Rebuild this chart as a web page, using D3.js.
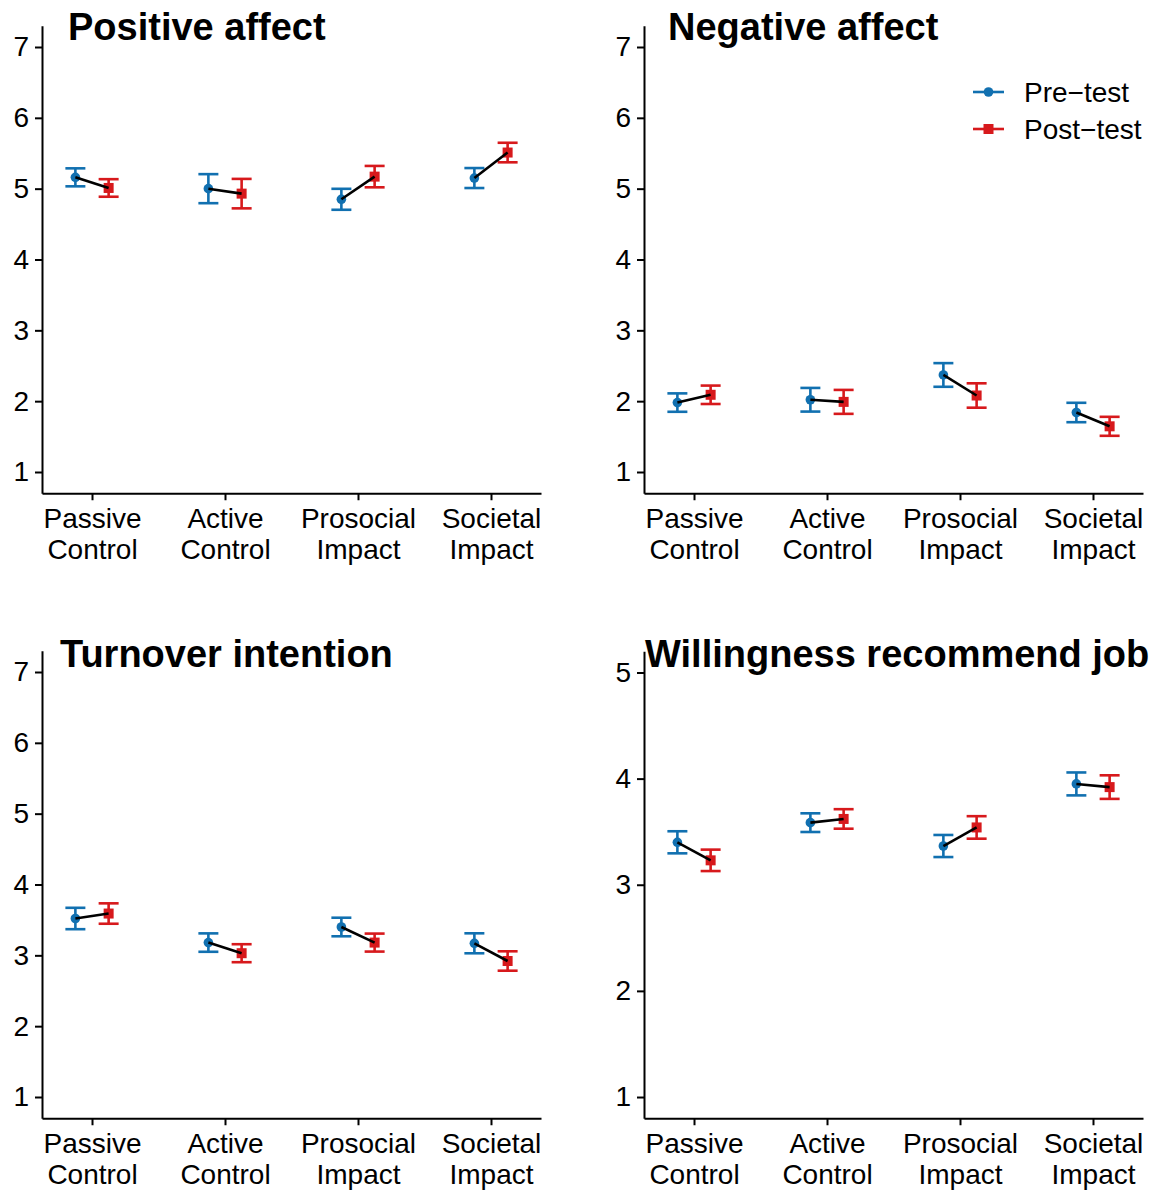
<!DOCTYPE html>
<html>
<head>
<meta charset="utf-8" />
<script src="https://cdn.jsdelivr.net/npm/d3@7"></script>
<style>
	body {
		margin: 0;
		background: #fff;
	}
	text {
		font-family: 'Liberation Sans', Arial, sans-serif;
	}
</style>
</head>
<body>
<div id="chart"></div>
<script>
const categories = ['Passive Control', 'Active Control', 'Prosocial Impact', 'Societal Impact']
const categoryLines = [
	['Passive', 'Control'],
	['Active', 'Control'],
	['Prosocial', 'Impact'],
	['Societal', 'Impact'],
]
const timeLabels = ['Pre\u2212test', 'Post\u2212test']

// means and error half-widths, per outcome
const positivePre = [5.16, 5.0, 4.85, 5.15]
const positivePost = [5.01, 4.93, 5.17, 5.51]
const positivePreErr = [0.127, 0.205, 0.148, 0.141]
const positivePostErr = [0.124, 0.208, 0.151, 0.138]

const negativePre = [1.98, 2.02, 2.37, 1.84]
const negativePost = [2.09, 1.99, 2.08, 1.645]
const negativePreErr = [0.13, 0.167, 0.167, 0.137]
const negativePostErr = [0.13, 0.169, 0.172, 0.134]

const turnoverPre = [3.52, 3.18, 3.4, 3.17]
const turnoverPost = [3.59, 3.03, 3.18, 2.92]
const turnoverPreErr = [0.151, 0.13, 0.131, 0.141]
const turnoverPostErr = [0.144, 0.127, 0.127, 0.137]

const recommendPre = [3.4, 3.585, 3.365, 3.95]
const recommendPost = [3.23, 3.62, 3.54, 3.92]
const recommendPreErr = [0.104, 0.088, 0.104, 0.108]
const recommendPostErr = [0.101, 0.092, 0.106, 0.111]

const ticks7 = [1, 2, 3, 4, 5, 6, 7]
const ticks5 = [1, 2, 3, 4, 5]

const colors = ['#1170b0', '#d7191c']

const panels = [
	{
		title: 'Positive affect',
		pre: positivePre, post: positivePost, preErr: positivePreErr, postErr: positivePostErr,
		ticks: ticks7, domain: [0.7, 7.3],
		left: 42, right: 541, top: 25.75, bottom: 493.25, titleX: 68, titleY: 40,
	},
	{
		title: 'Negative affect',
		pre: negativePre, post: negativePost, preErr: negativePreErr, postErr: negativePostErr,
		ticks: ticks7, domain: [0.7, 7.3],
		left: 644, right: 1143, top: 25.75, bottom: 493.25, titleX: 668, titleY: 40,
		legend: true,
	},
	{
		title: 'Turnover intention',
		pre: turnoverPre, post: turnoverPost, preErr: turnoverPreErr, postErr: turnoverPostErr,
		ticks: ticks7, domain: [0.7, 7.3],
		left: 42, right: 541, top: 650.75, bottom: 1118.25, titleX: 60, titleY: 667,
	},
	{
		title: 'Willingness recommend job',
		pre: recommendPre, post: recommendPost, preErr: recommendPreErr, postErr: recommendPostErr,
		ticks: ticks5, domain: [0.8, 5.2],
		left: 644, right: 1143, top: 651.25, bottom: 1118.25, titleX: 645, titleY: 667,
	},
]

const svg = d3
	.select('#chart')
	.append('svg')
	.attr('width', 1158)
	.attr('height', 1190)

panels.forEach(drawPanel)

function drawPanel(p) {
	const g = svg.append('g')

	const x = d3.scalePoint().domain(categories).range([p.left, p.right]).padding(0.376)
	const y = d3.scaleLinear().domain(p.domain).range([p.bottom, p.top])
	const dodge = x.step() * 0.125

	// axes
	const yAxis = g
		.append('g')
		.attr('transform', `translate(${p.left},0)`)
		.call(
			d3
				.axisLeft(y)
				.tickValues(p.ticks)
				.tickFormat(d3.format('d'))
				.tickSize(7)
				.tickPadding(6)
				.tickSizeOuter(0)
		)
	const xAxis = g
		.append('g')
		.attr('transform', `translate(0,${p.bottom})`)
		.call(d3.axisBottom(x).tickSize(7).tickSizeOuter(0).tickFormat(''))
	;[yAxis, xAxis].forEach((a) => {
		a.select('.domain').attr('stroke', '#000').attr('stroke-width', 2)
		a.selectAll('.tick line').attr('stroke', '#000').attr('stroke-width', 2)
	})
	yAxis.selectAll('.tick text').attr('font-size', 28).attr('fill', '#000')

	xAxis
		.selectAll('.tick')
		.append('g')
		.each(function (d, i) {
			const t = d3.select(this)
			categoryLines[i].forEach((line, j) => {
				t.append('text')
					.attr('y', 35 + j * 31)
					.attr('text-anchor', 'middle')
					.attr('font-size', 28)
					.attr('fill', '#000')
					.text(line)
			})
		})

	// title
	g.append('text')
		.attr('x', p.titleX)
		.attr('y', p.titleY)
		.attr('font-size', 38)
		.attr('font-weight', 'bold')
		.attr('fill', '#000')
		.text(p.title)

	const rows = categories.map((c, i) => ({
		cat: c,
		values: [
			{t: 0, mean: p.pre[i], err: p.preErr[i]},
			{t: 1, mean: p.post[i], err: p.postErr[i]},
		],
	}))
	const px = (c, t) => x(c) + (t === 0 ? -dodge : dodge)

	const groups = g.selectAll('.grp').data(rows).enter().append('g').attr('class', 'grp')

	// error bars
	const bars = groups
		.selectAll('.err')
		.data((d) => d.values.map((v) => ({...v, cat: d.cat})))
		.enter()
		.append('g')
		.attr('stroke', (d) => colors[d.t])
		.attr('stroke-width', 2.6)
	bars.append('line')
		.attr('x1', (d) => px(d.cat, d.t))
		.attr('x2', (d) => px(d.cat, d.t))
		.attr('y1', (d) => y(d.mean - d.err))
		.attr('y2', (d) => y(d.mean + d.err))
	;[-1, 1].forEach((s) => {
		bars.append('line')
			.attr('x1', (d) => px(d.cat, d.t) - 10)
			.attr('x2', (d) => px(d.cat, d.t) + 10)
			.attr('y1', (d) => y(d.mean + s * d.err))
			.attr('y2', (d) => y(d.mean + s * d.err))
	})

	// points
	groups
		.append('circle')
		.attr('cx', (d) => px(d.cat, 0))
		.attr('cy', (d) => y(d.values[0].mean))
		.attr('r', 4.8)
		.attr('fill', colors[0])
	groups
		.append('rect')
		.attr('x', (d) => px(d.cat, 1) - 5)
		.attr('y', (d) => y(d.values[1].mean) - 5)
		.attr('width', 10)
		.attr('height', 10)
		.attr('fill', colors[1])

	// connecting line
	groups
		.append('line')
		.attr('x1', (d) => px(d.cat, 0))
		.attr('y1', (d) => y(d.values[0].mean))
		.attr('x2', (d) => px(d.cat, 1))
		.attr('y2', (d) => y(d.values[1].mean))
		.attr('stroke', '#000')
		.attr('stroke-width', 2.6)

	if (p.legend) drawLegend()
}

function drawLegend() {
	const lg = svg.append('g').attr('transform', 'translate(973,92)')
	const item = lg
		.selectAll('g')
		.data(timeLabels)
		.enter()
		.append('g')
		.attr('transform', (d, i) => `translate(0,${i * 37})`)
	item.append('line')
		.attr('x1', 0)
		.attr('x2', 31)
		.attr('stroke', (d, i) => colors[i])
		.attr('stroke-width', 2.6)
	item.filter((d, i) => i === 0)
		.append('circle')
		.attr('cx', 15.5)
		.attr('r', 4.8)
		.attr('fill', colors[0])
	item.filter((d, i) => i === 1)
		.append('rect')
		.attr('x', 10.5)
		.attr('y', -5)
		.attr('width', 10)
		.attr('height', 10)
		.attr('fill', colors[1])
	item.append('text')
		.attr('x', 51)
		.attr('dy', '0.35em')
		.attr('font-size', 28)
		.attr('fill', '#000')
		.text((d) => d)
}
</script>
</body>
</html>
